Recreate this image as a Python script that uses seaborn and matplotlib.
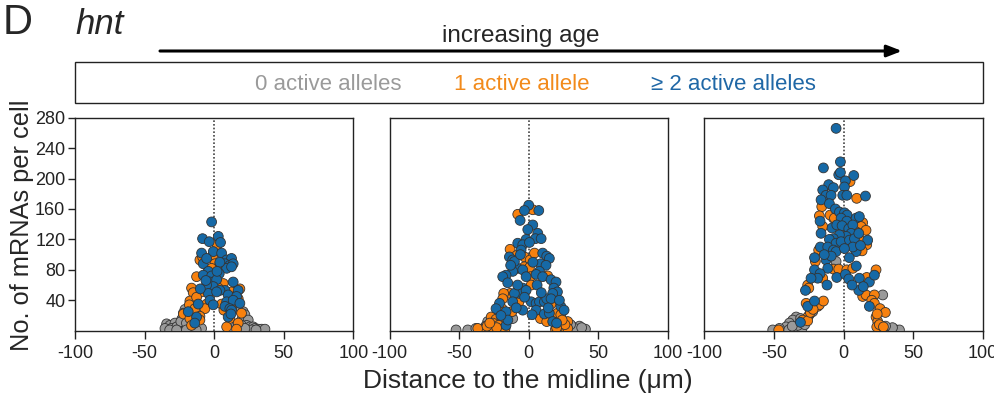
"""
Figure D: hnt mRNAs per cell vs distance to the midline, three ages.
"""

import pandas as pd
import matplotlib.pyplot as plt
import seaborn as sns
from matplotlib.patches import Rectangle

# (distance um, mRNAs per cell)
p1_zero = [(-21, 28), (-22.2, 23), (-23.4, 15), (-18.7, 14), (-34.2, 9), (-31.8, 7), (-28.2, 10),
           (-30.6, 3), (-35.4, 3), (-25.8, 3), (-22.2, 5), (-16.3, 5), (-9.1, 3), (18.4, 27),
           (20.8, 25), (22, 21), (19.6, 14), (24.4, 14), (23.2, 7), (25.6, 5), (28, 5), (29.2, 3),
           (31.6, 2), (34, 2), (36.4, 2), (16, 7), (19.6, 7), (-27, 5), (-24, 12), (-20, 10),
           (-32, 1), (-27, 1), (-20, 1), (27, 1), (30, 1), (22, 3), (-13, 1)]
p1_one = [(2.2, 113), (-10.3, 93), (-0.7, 100), (0.5, 88), (4.1, 88), (-4.3, 78), (-12.7, 71),
          (-5.5, 71), (6.5, 62), (16, 53), (-9.1, 51), (12.4, 51), (-16.3, 56), (2.9, 56),
          (18.4, 55), (-15.1, 50), (14.8, 45), (-17.5, 39), (-17.9, 34), (-12.7, 44), (5.3, 35),
          (6.9, 27), (17.2, 42), (-5.5, 35), (-13.9, 29), (-6.7, 29), (12.4, 29), (-22.2, 22),
          (-17.5, 16), (-10.3, 19), (-16.3, 7), (-10.3, 14), (11.2, 16), (8.9, 5), (17.2, 10),
          (19.6, 23), (16, 2), (-8.4, 97), (2.9, 75), (-2, 82)]
p1_two = [(-1.9, 143), (-8.4, 121), (-3.6, 117), (2.9, 124), (4.5, 116), (-9.1, 102), (-0.7, 104),
          (5.3, 102), (8.9, 93), (12.4, 95), (-7.9, 88), (-5.5, 95), (7.7, 88), (11.2, 86),
          (13.6, 88), (8.9, 82), (12.4, 84), (-4.3, 78), (-7.9, 73), (3.6, 75), (-1.9, 72),
          (-3.1, 64), (1.7, 67), (-0.7, 58), (-5.5, 60), (13.6, 64), (17.2, 53), (7.7, 53),
          (4.1, 53), (-4.3, 49), (1.7, 51), (10, 47), (16, 45), (-11.5, 35), (-3.1, 40),
          (-0.7, 34), (8.9, 38), (7.7, 32), (13.6, 40), (11.2, 29), (18.4, 36), (-12.7, 18),
          (10, 18), (-18.7, 25), (12.4, 27), (-14, 10), (12, 22), (-10, 55), (-6, 66), (4, 90),
          (2, 78)]

p2_zero = [(31.6, 5), (35.2, 2), (40.7, 2), (36.4, 6), (-43.8, 1), (-52.2, 1), (-29.5, 12),
           (-11.5, 16), (-31, 6), (-38, 3), (33, 3), (38, 4), (30, 8), (-26, 7), (-20, 10)]
p2_one = [(2.9, 159), (-7.9, 153), (-13.4, 107), (-8.6, 99), (-3.1, 97), (1, 93), (4.1, 102),
          (-3.1, 84), (0.5, 83), (1.2, 71), (13.6, 72), (1.7, 60), (-13.4, 49), (-18, 49),
          (-18.7, 42), (-19.2, 29), (-12, 25), (-7.2, 37), (16, 35), (8.4, 16), (20.6, 23),
          (23, 21), (12.9, 12), (19.2, 2), (23.2, 2), (25.6, 5), (28, 12), (28, 3), (-27, 18),
          (-23.5, 15), (-25.8, 10), (-19.2, 16), (-21.5, 7), (-29.5, 3), (-33, 2), (-36.6, 3),
          (-21, 2), (-17, 3), (-25, 2), (-30, 6), (22, 8), (26, 8), (24, 14), (20, 4), (-23, 4),
          (-28, 10)]
p2_two = [(0, 165), (-3.1, 158), (7.2, 158), (-6.2, 145), (2.9, 139), (-0.7, 133), (6.5, 128),
          (4.8, 121), (8.9, 121), (-1.9, 120), (-7.9, 115), (-4.3, 113), (0.5, 116), (-5.5, 106),
          (-13.9, 97), (-11.5, 93), (10, 102), (12.9, 98), (14.8, 95), (8.6, 88), (12.4, 86),
          (7.7, 78), (-7.9, 82), (-10.3, 91), (-11.5, 78), (-16.3, 73), (-18.7, 71), (-15.1, 63),
          (-4.3, 80), (-1.9, 71), (5.3, 74), (10, 71), (16, 67), (19.6, 64), (18, 56), (20.6, 51),
          (17.2, 49), (-4.3, 56), (-6.7, 49), (-1.9, 53), (-10.3, 49), (-21, 36), (-23.5, 29),
          (-16.3, 25), (-11.5, 38), (-4.3, 27), (1.7, 38), (5.3, 36), (7.7, 38), (11.2, 38),
          (12.9, 42), (16, 42), (5.3, 27), (2.4, 21), (11.2, 22), (14.8, 23), (23, 32),
          (25.4, 27), (17.2, 12), (22, 40), (-16.3, 7), (-15, 14), (-20, 20), (-8, 60), (3, 90),
          (-6, 100), (-13, 86), (6, 60), (-9, 30), (9, 50), (14, 30), (20, 10), (-3, 44)]

p3_zero = [(-7.4, 148), (-5.5, 91), (28, 47), (31.6, 3), (34, 1), (37.6, 1), (40, 1), (35, 4),
           (-24.7, 21), (-22.3, 25), (-34.2, 18), (-36.6, 14), (-39, 10), (-41.4, 5), (-46.2, 3),
           (-51, 1), (-34.7, 3), (-30, 3), (-39.5, 1), (-33, 7), (-28, 8), (-37, 6), (-31, 16),
           (30, 6), (26, 2)]
p3_one = [(4.5, 196), (9.3, 174), (-15.8, 163), (-17.5, 151), (-9.8, 152), (-6.7, 148), (13.6, 142),
          (12.4, 137), (8.9, 130), (16, 132), (-15.1, 137), (11.2, 121), (16.5, 113), (13.2, 105),
          (-18, 106), (-11.5, 108), (-20.4, 91), (-7.4, 81), (-3.6, 81), (-15.1, 69), (-25.9, 60),
          (-25.1, 56), (2.2, 80), (6.5, 82), (16.5, 70), (23.2, 80), (13.6, 45), (16, 47), (22, 47),
          (20.1, 40), (22, 36), (26.1, 29), (29.9, 24), (23.2, 18), (24.4, 12), (23.7, 5),
          (25.6, 8), (28.5, 5), (-27, 36), (-18.7, 32), (-17.5, 34), (-14.6, 39), (-25.9, 18),
          (-29.5, 14), (-25.9, 13), (-46.7, 1), (24, 22), (-24, 24), (-22, 28)]
p3_two = [(-5.5, 266), (-2.4, 222), (-14.6, 214), (-3.6, 205), (-2.4, 208), (7.2, 204), (1.2, 197),
          (-10.8, 192), (-7.4, 188), (0.5, 189), (15.6, 177), (-15.1, 185), (-12.7, 178), (-9.1, 178),
          (-0.7, 178), (2.2, 178), (-16.3, 172), (-10.3, 167), (-6, 160), (-3.1, 156), (0.5, 155),
          (2.4, 152), (-17, 144), (-1.9, 148), (2.2, 144), (8.9, 148), (11.2, 150), (-16.3, 128),
          (-8.4, 135), (-5, 139), (-1.2, 138), (3.6, 134), (6.5, 139), (5.3, 128), (1.7, 124),
          (-3.1, 126), (-7.4, 121), (-10.3, 120), (-5.5, 115), (-1.9, 117), (4.1, 119), (7.7, 121),
          (10.8, 128), (17.2, 119), (8.9, 104), (6.5, 110), (-16.8, 110), (-11.5, 110), (-7.4, 106),
          (-5.5, 104), (0.5, 108), (-21, 96), (-12.7, 93), (-11.5, 82), (-21, 80), (-17, 75),
          (-18.7, 69), (-23.5, 69), (-27.5, 53), (-12, 60), (-5, 70), (1.2, 74), (3.6, 68),
          (11.2, 69), (18.4, 64), (22, 73), (10.8, 53), (18.4, 32), (-25.9, 32), (-21, 39),
          (-31.1, 11), (-9, 98), (4, 96), (12, 112), (-14, 100), (9, 85), (14, 58), (6, 60)]

panels = [(p1_zero, p1_one, p1_two), (p2_zero, p2_one, p2_two), (p3_zero, p3_one, p3_two)]
groups = ["0 active alleles", "1 active allele", "\u2265 2 active alleles"]
colors = {"0 active alleles": "#9a9a9a", "1 active allele": "#f7810f",
          "\u2265 2 active alleles": "#1669a6"}
text_colors = ["#9a9a9a", "#f28a1a", "#1f67a6"]
x_ticks = [-100, -50, 0, 50, 100]
y_ticks = [40, 80, 120, 160, 200, 240, 280]

sns.set_style("ticks")
plt.rcParams["font.family"] = ["Liberation Sans", "DejaVu Sans"]
plt.rcParams.update({"axes.edgecolor": "#222222", "axes.linewidth": 1.0,
                     "xtick.color": "#222222", "ytick.color": "#222222"})


def main():
    fig = plt.figure(figsize=(9.95, 3.99), dpi=100)
    lefts = [75, 389.5, 704.5]
    for i, (left, pts) in enumerate(zip(lefts, panels)):
        ax = fig.add_axes([left / 995, 1 - 330.7 / 399, 278.5 / 995, 213 / 399])
        rows = []
        for g, lst in zip(groups, pts):
            rows += [{"x": x, "y": y, "group": g} for x, y in lst]
        df = pd.DataFrame(rows)
        ax.axvline(0, color="#444444", ls=(0, (1, 1.2)), lw=1.2, zorder=1)
        sns.scatterplot(data=df, x="x", y="y", hue="group", hue_order=groups, palette=colors,
                        s=50, edgecolor="#333333", linewidth=0.6, legend=False, zorder=3, ax=ax)
        ax.set_xlim(-100, 100)
        ax.set_ylim(0, 280)
        ax.set_xticks(x_ticks)
        ax.set_xticklabels([str(t) for t in x_ticks], fontsize=13)
        ax.tick_params(axis="x", length=6, width=1, pad=4)
        if i == 0:
            ax.set_yticks(y_ticks)
            ax.set_yticklabels([str(t) for t in y_ticks], fontsize=13)
            ax.tick_params(axis="y", length=5, width=1, pad=2)
        else:
            ax.set_yticks([])
        ax.set_xlabel("")
        ax.set_ylabel("")

    fig.text(22 / 995, 1 - 225 / 399, "No. of mRNAs per cell", rotation=90,
             ha="center", va="center", fontsize=18.3)
    fig.text(528 / 995, 1 - 381 / 399, "Distance to the midline (\u03bcm)",
             ha="center", va="center", fontsize=19)

    fig.text(0.003, 1 - 23 / 399, "D", ha="left", va="center", fontsize=30)
    fig.text(75 / 995, 1 - 25 / 399, "hnt", ha="left", va="center", fontsize=25, style="italic")
    fig.text(521 / 995, 1 - 36 / 399, "increasing age", ha="center", va="center", fontsize=17.5)
    plt.annotate("", xy=(902 / 995, 1 - 51 / 399), xytext=(160 / 995, 1 - 51 / 399),
                 xycoords="figure fraction",
                 arrowprops=dict(arrowstyle="-|>,head_length=0.9,head_width=0.35",
                                 lw=2.2, color="black", shrinkA=0, shrinkB=0))

    fig.add_artist(Rectangle((75 / 995, 1 - 103 / 399), 908 / 995, 41 / 399,
                             transform=fig.transFigure, fill=False, ec="#222222", lw=1))
    for label, cx, c in zip(groups, [328, 522, 733], text_colors):
        fig.text(cx / 995, 1 - 84 / 399, label, ha="center", va="center", fontsize=16, color=c)

    fig.savefig("out.png", dpi=100)
    plt.close(fig)


if __name__ == "__main__":
    main()
